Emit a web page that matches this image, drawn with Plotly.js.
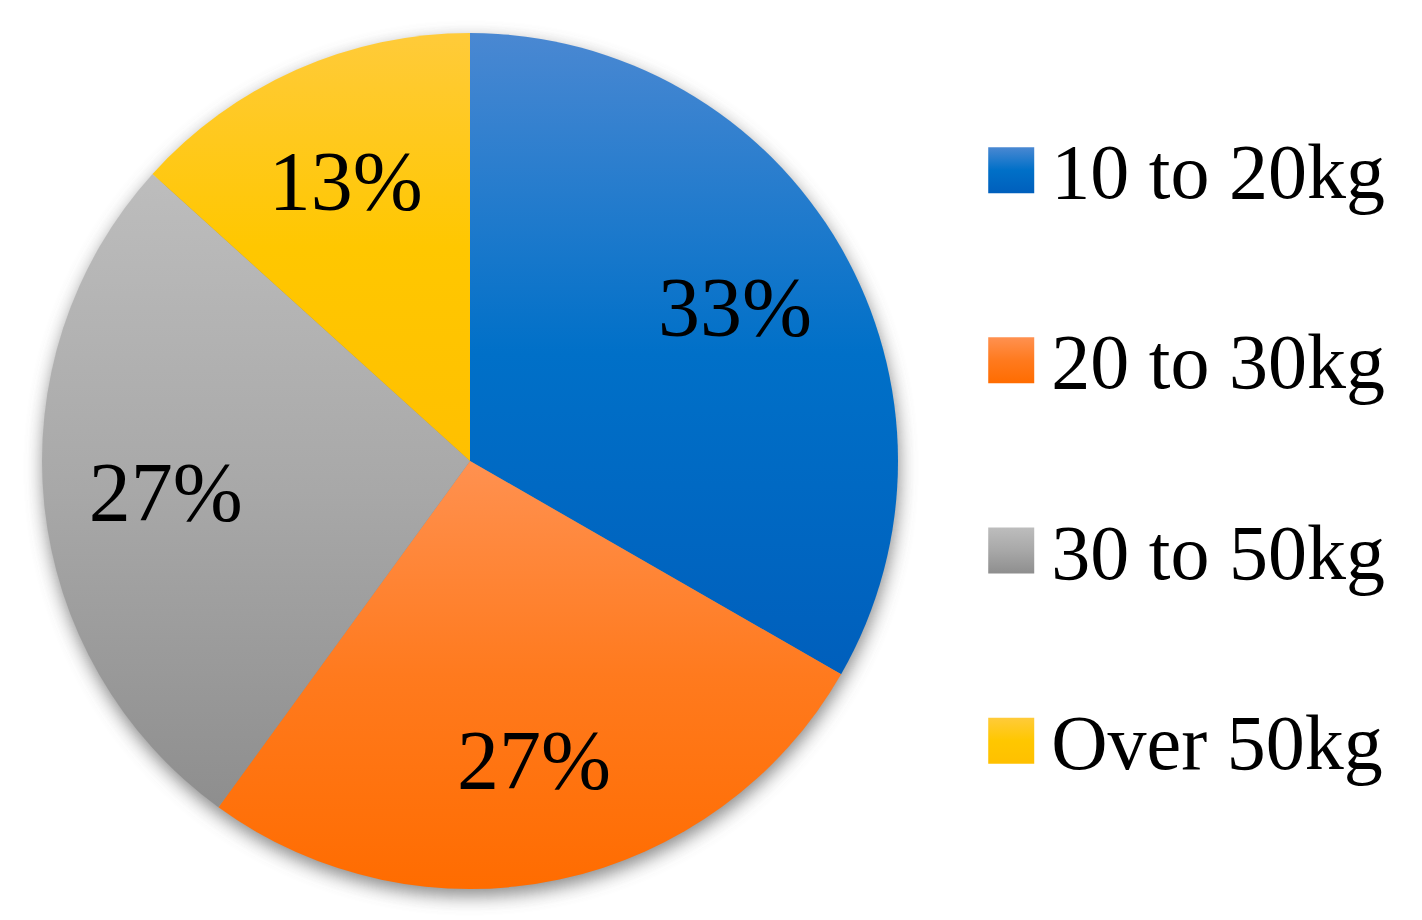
<!DOCTYPE html>
<html><head><meta charset="utf-8">
<script src="https://cdn.plot.ly/plotly-3.0.1.min.js"></script>
<style>html,body{margin:0;padding:0;background:#fff}#chart{width:1422px;height:920px}</style>
</head><body><div id="chart"></div>
<script>
const categories = ['10 to 20kg', '20 to 30kg', '30 to 50kg', 'Over 50kg'];
const shares = [33.3, 26.7, 26.7, 13.3];
const baseColors = ['#0070c8', '#ff7a1e', '#a8a8a8', '#ffc700'];
const gradientStops = [
  ['#4a88d2', '#0070c8', '#005fbc'],
  ['#ff9150', '#ff7a1e', '#ff6c00'],
  ['#bdbdbd', '#a8a8a8', '#8e8e8e'],
  ['#ffcb3a', '#ffc700', '#ffc000']
];

const FONT = '"Liberation Serif", "DejaVu Serif", serif';
const legendLabels = categories.map(c => '<span style="font-size:78px">' + c + '</span><br>\u00a0');
const pieDomain = {x: [42 / 1422, 898 / 1422], y: [31 / 920, 887 / 920]};

const data = [{
  type: 'pie',
  labels: legendLabels,
  values: shares,
  sort: false,
  direction: 'clockwise',
  rotation: 0,
  marker: {colors: baseColors, line: {width: 0}},
  textinfo: 'none',
  hoverinfo: 'none',
  domain: pieDomain
}, {
  // transparent overlay that only carries the percentage labels (placed in the outer ring)
  type: 'pie',
  labels: legendLabels,
  values: shares,
  sort: false,
  direction: 'clockwise',
  rotation: 0,
  hole: 0.43,
  showlegend: false,
  marker: {colors: categories.map(() => 'rgba(0,0,0,0)'), line: {width: 0}},
  textposition: 'inside',
  insidetextorientation: 'horizontal',
  texttemplate: '%{percent:.0%}',
  textfont: {family: FONT, size: 84, color: '#000'},
  hoverinfo: 'none',
  domain: pieDomain
}];

const layout = {
  width: 1422, height: 920,
  margin: {l: 0, r: 0, t: 0, b: 0},
  paper_bgcolor: '#fff',
  showlegend: true,
  legend: {
    x: 0.683, xanchor: 'left',
    y: 0.873, yanchor: 'top',
    valign: 'top',
    itemwidth: 70,
    font: {family: FONT, size: 72, color: '#000'},
    bgcolor: 'rgba(0,0,0,0)', borderwidth: 0
  }
};

Plotly.newPlot('chart', data, layout, {staticPlot: true, displayModeBar: false}).then(gd => {
  const NS = 'http://www.w3.org/2000/svg';
  const svg = gd.querySelector('svg.main-svg');
  let defs = svg.querySelector('defs');
  if (!defs) { defs = document.createElementNS(NS, 'defs'); svg.insertBefore(defs, svg.firstChild); }
  gradientStops.forEach((stops, i) => {
    const lg = document.createElementNS(NS, 'linearGradient');
    lg.setAttribute('id', 'sg' + i);
    lg.setAttribute('x1', '0'); lg.setAttribute('y1', '0');
    lg.setAttribute('x2', '0'); lg.setAttribute('y2', '1');
    stops.forEach((c, k) => {
      const s = document.createElementNS(NS, 'stop');
      s.setAttribute('offset', (k / (stops.length - 1)).toString());
      s.setAttribute('stop-color', c);
      lg.appendChild(s);
    });
    defs.appendChild(lg);
  });
  const f = document.createElementNS(NS, 'filter');
  f.setAttribute('id', 'pieShadow');
  f.setAttribute('x', '-20%'); f.setAttribute('y', '-20%');
  f.setAttribute('width', '140%'); f.setAttribute('height', '140%');
  const blur = document.createElementNS(NS, 'feGaussianBlur');
  blur.setAttribute('stdDeviation', '9');
  f.appendChild(blur);
  defs.appendChild(f);

  const traces = gd.querySelectorAll('g.pielayer g.trace');
  const colorTrace = traces[0];
  const surfaces = colorTrace.querySelectorAll('g.slice path.surface');
  const sh = document.createElementNS(NS, 'g');
  sh.setAttribute('filter', 'url(#pieShadow)');
  sh.setAttribute('opacity', '0.7');
  surfaces.forEach(p => {
    const c = p.cloneNode(true);
    c.style.fill = '#555';
    c.style.stroke = 'none';
    const t = p.parentNode.getAttribute('transform') || '';
    const g = document.createElementNS(NS, 'g');
    g.setAttribute('transform', 'translate(1,7) ' + t);
    g.appendChild(c);
    sh.appendChild(g);
  });
  colorTrace.insertBefore(sh, colorTrace.firstChild);
  surfaces.forEach((p, i) => { p.style.fill = 'url(#sg' + i + ')'; });
  gd.querySelectorAll('g.legend path.legendpie').forEach((p, i) => {
    p.setAttribute('d', 'M23,23H-23V-23H23Z');
    p.style.fill = 'url(#sg' + i + ')';
    p.style.stroke = 'none';
  });
});
</script>
</body></html>
